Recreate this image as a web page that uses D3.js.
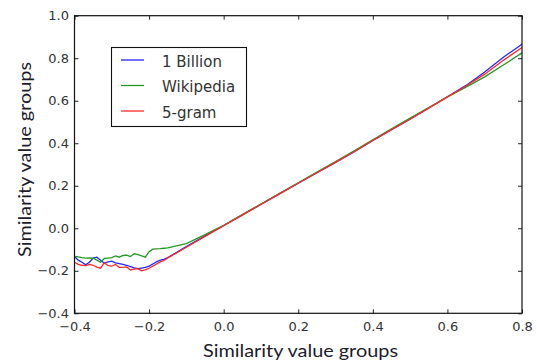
<!DOCTYPE html>
<html>
<head>
<meta charset="utf-8">
<script src="https://cdn.jsdelivr.net/npm/d3@7"></script>
<style>
  body { margin: 0; background: #fff; }
  svg { display: block; }
  .tick text { font-family: "DejaVu Sans", sans-serif; font-size: 13px; fill: #333; }
</style>
</head>
<body>
<svg id="chart" width="537" height="364"></svg>
<script>
// x groups: fine steps in the noisy part, coarser where the curves are straight
var xs = [-0.40, -0.39, -0.38, -0.37, -0.36, -0.35, -0.34, -0.33, -0.32, -0.31,
          -0.30, -0.29, -0.28, -0.27, -0.26, -0.25, -0.24, -0.23, -0.22, -0.21,
          -0.20, -0.19, -0.18, -0.17, -0.16, -0.15, -0.10, -0.05, 0.00, 0.05,
          0.10, 0.15, 0.20, 0.25, 0.30, 0.35, 0.40, 0.45, 0.50, 0.55,
          0.60, 0.65, 0.70, 0.75, 0.80];

var billion = [-0.133, -0.150, -0.160, -0.172, -0.160, -0.140, -0.136, -0.150, -0.165, -0.158,
               -0.155, -0.163, -0.166, -0.170, -0.174, -0.180, -0.186, -0.190, -0.187, -0.184,
               -0.178, -0.168, -0.158, -0.150, -0.146, -0.138, -0.086, -0.036, 0.013, 0.063,
               0.113, 0.163, 0.212, 0.261, 0.310, 0.360, 0.413, 0.464, 0.514, 0.566,
               0.619, 0.672, 0.735, 0.805, 0.866];

var wikipedia = [-0.132, -0.135, -0.138, -0.140, -0.139, -0.141, -0.150, -0.160, -0.142, -0.140,
                 -0.138, -0.130, -0.136, -0.128, -0.126, -0.133, -0.120, -0.124, -0.130, -0.136,
                 -0.110, -0.098, -0.097, -0.096, -0.094, -0.092, -0.072, -0.030, 0.014, 0.064,
                 0.114, 0.164, 0.214, 0.264, 0.314, 0.364, 0.416, 0.468, 0.518, 0.568,
                 0.618, 0.664, 0.712, 0.768, 0.825];

var fivegram = [-0.160, -0.170, -0.174, -0.176, -0.170, -0.174, -0.183, -0.188, -0.162, -0.176,
                -0.178, -0.170, -0.184, -0.184, -0.182, -0.196, -0.192, -0.190, -0.200, -0.196,
                -0.188, -0.178, -0.168, -0.158, -0.151, -0.140, -0.089, -0.038, 0.012, 0.062,
                0.112, 0.162, 0.212, 0.261, 0.310, 0.360, 0.413, 0.464, 0.513, 0.565,
                0.618, 0.669, 0.725, 0.790, 0.850];

var seriesNames = ["1 Billion", "Wikipedia", "5-gram"];
var seriesColors = ["#2525ff", "#239923", "#ff2828"];
var xTicks = [-0.4, -0.2, 0.0, 0.2, 0.4, 0.6, 0.8];
var yTicks = [-0.4, -0.2, 0.0, 0.2, 0.4, 0.6, 0.8, 1.0];

var svg = d3.select("#chart");
var pl = 74.5, pr = 522, pt = 15.7, pb = 313.3;

var x = d3.scaleLinear().domain([-0.4, 0.8]).range([pl, pr]);
var y = d3.scaleLinear().domain([-0.4, 1.0]).range([pb, pt]);

var fmt = function(d){ return d3.format(".1f")(d).replace("-", "\u2212"); };

// ticks point inwards, on all four sides (classic matplotlib look)
svg.append("g").attr("transform", "translate(0," + pb + ")")
  .call(d3.axisBottom(x).tickValues(xTicks).tickFormat(fmt).tickSizeInner(-4).tickSizeOuter(0).tickPadding(8));
svg.append("g").attr("transform", "translate(0," + pt + ")")
  .call(d3.axisTop(x).tickValues(xTicks).tickFormat("").tickSizeInner(-4).tickSizeOuter(0));
svg.append("g").attr("transform", "translate(" + pl + ",0)")
  .call(d3.axisLeft(y).tickValues(yTicks).tickFormat(fmt).tickSizeInner(-4).tickSizeOuter(0).tickPadding(5.5));
svg.append("g").attr("transform", "translate(" + pr + ",0)")
  .call(d3.axisRight(y).tickValues(yTicks).tickFormat("").tickSizeInner(-4).tickSizeOuter(0));
svg.selectAll(".domain").remove();
svg.selectAll(".tick line").attr("stroke", "#222");

var line = d3.line()
  .x(function(d, i){ return x(xs[i]); })
  .y(function(d){ return y(d); });

[billion, wikipedia, fivegram].forEach(function(s, i){
  svg.append("path")
    .attr("d", line(s))
    .attr("fill", "none")
    .attr("stroke", seriesColors[i])
    .attr("stroke-width", 1.3);
});

svg.append("rect")
  .attr("x", pl).attr("y", pt)
  .attr("width", pr - pl).attr("height", pb - pt)
  .attr("fill", "none").attr("stroke", "#111").attr("stroke-width", 1.2);

// legend
var lg = svg.append("g");
lg.append("rect").attr("x", 111.5).attr("y", 47.5).attr("width", 135).attr("height", 79)
  .attr("fill", "#fff").attr("stroke", "#111").attr("stroke-width", 1.1);
seriesNames.forEach(function(n, i){
  var ly = 60 + i * 25.5;
  lg.append("line").attr("x1", 121).attr("x2", 144).attr("y1", ly).attr("y2", ly)
    .attr("stroke", seriesColors[i]).attr("stroke-width", 1.3);
  lg.append("text").attr("x", 162).attr("y", ly + 6.5)
    .attr("font-family", "DejaVu Sans").attr("font-size", 15).attr("fill", "#333")
    .text(n);
});

// axis labels
svg.append("text")
  .attr("x", 300.5).attr("y", 357)
  .attr("text-anchor", "middle")
  .attr("font-family", "Lato, 'Open Sans', sans-serif").attr("font-size", 17).attr("fill", "#1c1c2c")
  .attr("textLength", 195).attr("lengthAdjust", "spacingAndGlyphs")
  .text("Similarity value groups");
svg.append("text")
  .attr("transform", "translate(31,159.5) rotate(-90)")
  .attr("text-anchor", "middle")
  .attr("font-family", "Lato, 'Open Sans', sans-serif").attr("font-size", 17).attr("fill", "#1c1c2c")
  .attr("textLength", 195).attr("lengthAdjust", "spacingAndGlyphs")
  .text("Similarity value groups");
</script>
</body>
</html>
